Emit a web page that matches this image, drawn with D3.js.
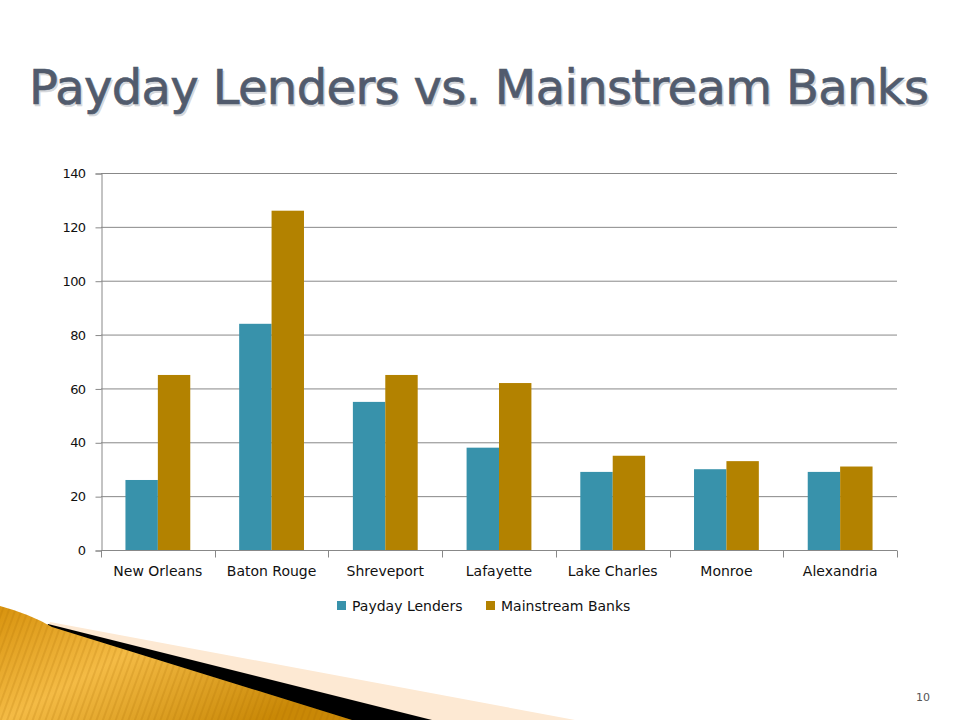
<!DOCTYPE html>
<html>
<head>
<meta charset="utf-8">
<script src="https://cdn.jsdelivr.net/npm/d3@7"></script>
<style>
  html, body { margin: 0; padding: 0; background: #fff; }
  svg { display: block; }
</style>
</head>
<body>
<div class="slide"></div>
<script>
var cities = ["New Orleans", "Baton Rouge", "Shreveport", "Lafayette", "Lake Charles", "Monroe", "Alexandria"];
var seriesNames = ["Payday Lenders", "Mainstream Banks"];
var paydayLenders = [26, 84, 55, 38, 29, 30, 29];
var mainstreamBanks = [65, 126, 65, 62, 35, 33, 31];
var yTicks = [0, 20, 40, 60, 80, 100, 120, 140];
var seriesColors = ["#3892ab", "#b38200"];

(function () {
    var width = 960, height = 720;
    var svg = d3.select(".slide").append("svg")
        .attr("width", width)
        .attr("height", height);

    /*
        Decoration, bottom left
    */
    var defs = svg.append("defs");
    var gold = defs.append("linearGradient")
        .attr("id", "goldGrad")
        .attr("x1", "0%").attr("y1", "0%")
        .attr("x2", "100%").attr("y2", "60%");
    gold.append("stop").attr("offset", "0%").attr("stop-color", "#d8930e");
    gold.append("stop").attr("offset", "45%").attr("stop-color", "#f4bb45");
    gold.append("stop").attr("offset", "100%").attr("stop-color", "#c98806");
    var stripes = defs.append("pattern")
        .attr("id", "stripes")
        .attr("width", 6).attr("height", 6)
        .attr("patternUnits", "userSpaceOnUse")
        .attr("patternTransform", "rotate(20)");
    stripes.append("rect").attr("width", 2).attr("height", 6)
        .attr("fill", "#a86c00").attr("opacity", 0.18);

    svg.append("path")
        .attr("d", "M50,622 L575,720 L0,720 Z")
        .attr("fill", "#fde9d3");
    svg.append("path")
        .attr("d", "M48,624 L432,720 L0,720 Z")
        .attr("fill", "#000");
    var goldShape = "M0,606 Q30,614 52,627 L352,720 L0,720 Z";
    svg.append("path").attr("d", goldShape).attr("fill", "url(#goldGrad)");
    svg.append("path").attr("d", goldShape).attr("fill", "url(#stripes)");

    /*
        Title
    */
    var title = "Payday Lenders vs. Mainstream Banks";
    [{ dx: 1.5, fill: "#d5d7db" }, { dx: 0, fill: "#515b6d" }].forEach(function (t) {
        svg.append("text")
            .attr("x", 29 + t.dx)
            .attr("y", 104 + t.dx)
            .attr("font-family", "'DejaVu Sans', sans-serif")
            .attr("font-size", 48)
            .attr("textLength", 900)
            .attr("lengthAdjust", "spacing")
            .attr("fill", t.fill)
            .attr("stroke", t.fill)
            .attr("stroke-width", 0.7)
            .text(title);
    });

    /*
        Chart
    */
    var plot = { left: 101, right: 897, top: 173, bottom: 550 };
    var x0 = d3.scaleBand().domain(cities).range([plot.left, plot.right]);
    var bw = x0.bandwidth();
    var x1 = d3.scaleBand().domain(seriesNames).range([bw * 0.215, bw * 0.785]);
    var y = d3.scaleLinear().domain([0, 140]).range([plot.bottom, plot.top]);

    var g = svg.append("g");

    // gridlines
    g.selectAll("line.grid").data(yTicks.slice(1)).enter().append("line")
        .attr("class", "grid")
        .attr("x1", plot.left).attr("x2", plot.right)
        .attr("y1", function (d) { return y(d) + 0.5; })
        .attr("y2", function (d) { return y(d) + 0.5; })
        .attr("stroke", "#888888").attr("stroke-width", 1);

    var rows = cities.map(function (c, i) {
        return { city: c, values: [paydayLenders[i], mainstreamBanks[i]] };
    });
    var groups = g.selectAll("g.city").data(rows).enter().append("g")
        .attr("class", "city")
        .attr("transform", function (d) { return "translate(" + x0(d.city) + ",0)"; });
    groups.selectAll("rect").data(function (d) {
        return d.values.map(function (v, k) { return { name: seriesNames[k], value: v, k: k }; });
    }).enter().append("rect")
        .attr("x", function (d) { return x1(d.name); })
        .attr("width", x1.bandwidth())
        .attr("y", function (d) { return y(d.value); })
        .attr("height", function (d) { return y(0) - y(d.value); })
        .attr("fill", function (d) { return seriesColors[d.k]; });

    // y axis
    var yAxis = d3.axisLeft(y).tickValues(yTicks).tickSize(6).tickPadding(10);
    var yg = g.append("g")
        .attr("transform", "translate(" + (plot.left + 0.5) + ",0.5)")
        .call(yAxis);
    yg.select(".domain").attr("stroke", "#888888");
    yg.selectAll(".tick line").attr("stroke", "#888888");
    yg.selectAll(".tick text")
        .attr("font-family", "'DejaVu Sans', sans-serif")
        .attr("font-size", 13)
        .attr("letter-spacing", -0.6)
        .attr("fill", "#111");

    // x axis
    var xAxis = d3.axisBottom(x0).tickSize(0).tickPadding(16);
    var xg = g.append("g")
        .attr("transform", "translate(0," + (plot.bottom + 0.5) + ")")
        .call(xAxis);
    xg.select(".domain").attr("stroke", "#888888").attr("d", "M" + plot.left + ",0H" + plot.right);
    xg.selectAll(".tick text")
        .attr("font-family", "'DejaVu Sans', sans-serif")
        .attr("font-size", 14)
        .attr("fill", "#111");
    var bounds = cities.map(function (c) { return x0(c); }).concat([plot.right]);
    xg.selectAll("line.sep").data(bounds).enter().append("line")
        .attr("class", "sep")
        .attr("x1", function (d) { return Math.round(d) + 0.5; })
        .attr("x2", function (d) { return Math.round(d) + 0.5; })
        .attr("y1", 0).attr("y2", 7)
        .attr("stroke", "#888888");

    // legend
    var legendX = [337, 486];
    var legend = svg.selectAll("g.legend").data(seriesNames).enter().append("g")
        .attr("class", "legend")
        .attr("transform", function (d, i) { return "translate(" + legendX[i] + ",601)"; });
    legend.append("rect")
        .attr("width", 9).attr("height", 9)
        .attr("fill", function (d, i) { return seriesColors[i]; });
    legend.append("text")
        .attr("x", 15).attr("y", 10)
        .attr("font-family", "'DejaVu Sans', sans-serif")
        .attr("font-size", 14)
        .attr("fill", "#111")
        .text(function (d) { return d; });

    // page number
    svg.append("text")
        .attr("x", 930).attr("y", 701)
        .attr("text-anchor", "end")
        .attr("font-family", "'DejaVu Sans', sans-serif")
        .attr("font-size", 11)
        .attr("fill", "#555")
        .text("10");
})();
</script>
</body>
</html>
